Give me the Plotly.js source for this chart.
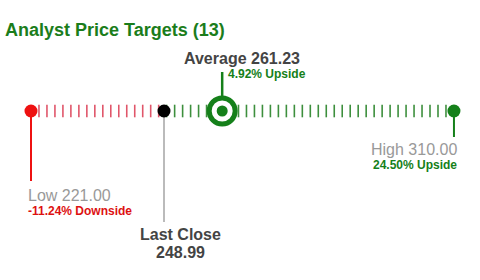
<!DOCTYPE html>
<html>
<head>
<meta charset="utf-8">
<script src="https://cdn.plot.ly/plotly-3.0.1.min.js"></script>
<style>html,body{margin:0;padding:0;background:#fff;}#chart{width:480px;height:280px;}</style>
</head>
<body>
<div id="chart"></div>
<script>
// ---- data ----
const titleText = 'Analyst Price Targets (13)';
const lowValue = 221.00;
const lastClose = 248.99;
const averageValue = 261.23;
const highValue = 310.00;
const lowPct = '-11.24% Downside';
const avgPct = '4.92% Upside';
const highPct = '24.50% Upside';
const dashCount = 53;

// ---- styles ----
const RED = '#ee1111';
const RED_DASH = '#e0566a';
const GREEN = '#15801a';
const GREEN_DASH = '#3d8f3d';
const GRAY_TXT = '#999999';
const DARK_TXT = '#444444';
const ROW = 111;
const FONT = 'Liberation Sans, Arial, sans-serif';

// decorative dashes evenly spread between low and high
const dashRed = [], dashGreen = [];
for (let k = 1; k < dashCount; k++) {
  const v = lowValue + k * (highValue - lowValue) / dashCount;
  if (v < lastClose) dashRed.push(v); else dashGreen.push(v);
}
const rowY = arr => arr.map(() => ROW);

const traces = [
  {x: dashRed, y: rowY(dashRed), mode: 'markers', type: 'scatter', hoverinfo: 'skip',
   marker: {symbol: 'line-ns', size: 9, line: {color: RED_DASH, width: 1.6}}},
  {x: dashGreen, y: rowY(dashGreen), mode: 'markers', type: 'scatter', hoverinfo: 'skip',
   marker: {symbol: 'line-ns', size: 9, line: {color: GREEN_DASH, width: 1.6}}},
  // stems
  {x: [lowValue, lowValue], y: [ROW, 181], mode: 'lines', line: {color: RED, width: 2}, hoverinfo: 'skip'},
  {x: [lastClose, lastClose], y: [ROW, 222], mode: 'lines', line: {color: '#bbbbbb', width: 2}, hoverinfo: 'skip'},
  {x: [averageValue, averageValue], y: [ROW, 72], mode: 'lines', line: {color: GREEN, width: 2.5}, hoverinfo: 'skip'},
  {x: [highValue, highValue], y: [ROW, 137], mode: 'lines', line: {color: GREEN, width: 2}, hoverinfo: 'skip'},
  // dots
  {x: [lowValue], y: [ROW], mode: 'markers', marker: {color: RED, size: 13}, hoverinfo: 'skip'},
  {x: [lastClose], y: [ROW], mode: 'markers', marker: {color: '#000000', size: 13}, hoverinfo: 'skip'},
  {x: [highValue], y: [ROW], mode: 'markers', marker: {color: GREEN, size: 13}, hoverinfo: 'skip'},
  {x: [averageValue], y: [ROW], mode: 'markers', hoverinfo: 'skip',
   marker: {color: '#ffffff', size: 26, line: {color: GREEN, width: 5}}},
  {x: [averageValue], y: [ROW], mode: 'markers', marker: {color: GREEN, size: 11}, hoverinfo: 'skip'}
];

function ann(x, y, text, opts) {
  return Object.assign({x: x, y: y, xref: 'x', yref: 'y', text: text, showarrow: false,
    yanchor: 'middle'}, opts);
}

const annotations = [
  ann(averageValue, 58, '<b>Average ' + averageValue.toFixed(2) + '</b>',
      {xanchor: 'center', xshift: 20, font: {family: FONT, size: 16, color: DARK_TXT}}),
  ann(averageValue, 74, '<b>' + avgPct + '</b>',
      {xanchor: 'left', xshift: 4, font: {family: FONT, size: 12, color: GREEN}}),
  ann(lowValue, 195, 'Low ' + lowValue.toFixed(2),
      {xanchor: 'left', xshift: -5, font: {family: FONT, size: 16, color: GRAY_TXT}}),
  ann(lowValue, 211, '<b>' + lowPct + '</b>',
      {xanchor: 'left', xshift: -5, font: {family: FONT, size: 12, color: '#dd1111'}}),
  ann(lastClose, 234, '<b>Last Close</b>',
      {xanchor: 'center', xshift: 16, font: {family: FONT, size: 16, color: DARK_TXT}}),
  ann(lastClose, 252, '<b>' + lastClose.toFixed(2) + '</b>',
      {xanchor: 'center', xshift: 16, font: {family: FONT, size: 16, color: DARK_TXT}}),
  ann(highValue, 149, 'High ' + highValue.toFixed(2),
      {xanchor: 'right', xshift: 5, font: {family: FONT, size: 16, color: GRAY_TXT}}),
  ann(highValue, 165, '<b>' + highPct + '</b>',
      {xanchor: 'right', xshift: 5, font: {family: FONT, size: 12, color: GREEN}})
];

const layout = {
  width: 480, height: 280,
  margin: {l: 0, r: 0, t: 0, b: 0},
  paper_bgcolor: '#ffffff', plot_bgcolor: '#ffffff',
  showlegend: false,
  title: {text: '<b>' + titleText + '</b>', x: 5 / 480, xref: 'container', xanchor: 'left',
          y: 1 - 30 / 280, yref: 'container', yanchor: 'middle',
          font: {family: FONT, size: 18, color: '#1b7d1b'}},
  xaxis: {range: [214.48, 315.48], visible: false, fixedrange: true},
  yaxis: {range: [280, 0], visible: false, fixedrange: true},
  annotations: annotations
};

Plotly.newPlot('chart', traces, layout, {staticPlot: true, displayModeBar: false});
</script>
</body>
</html>
